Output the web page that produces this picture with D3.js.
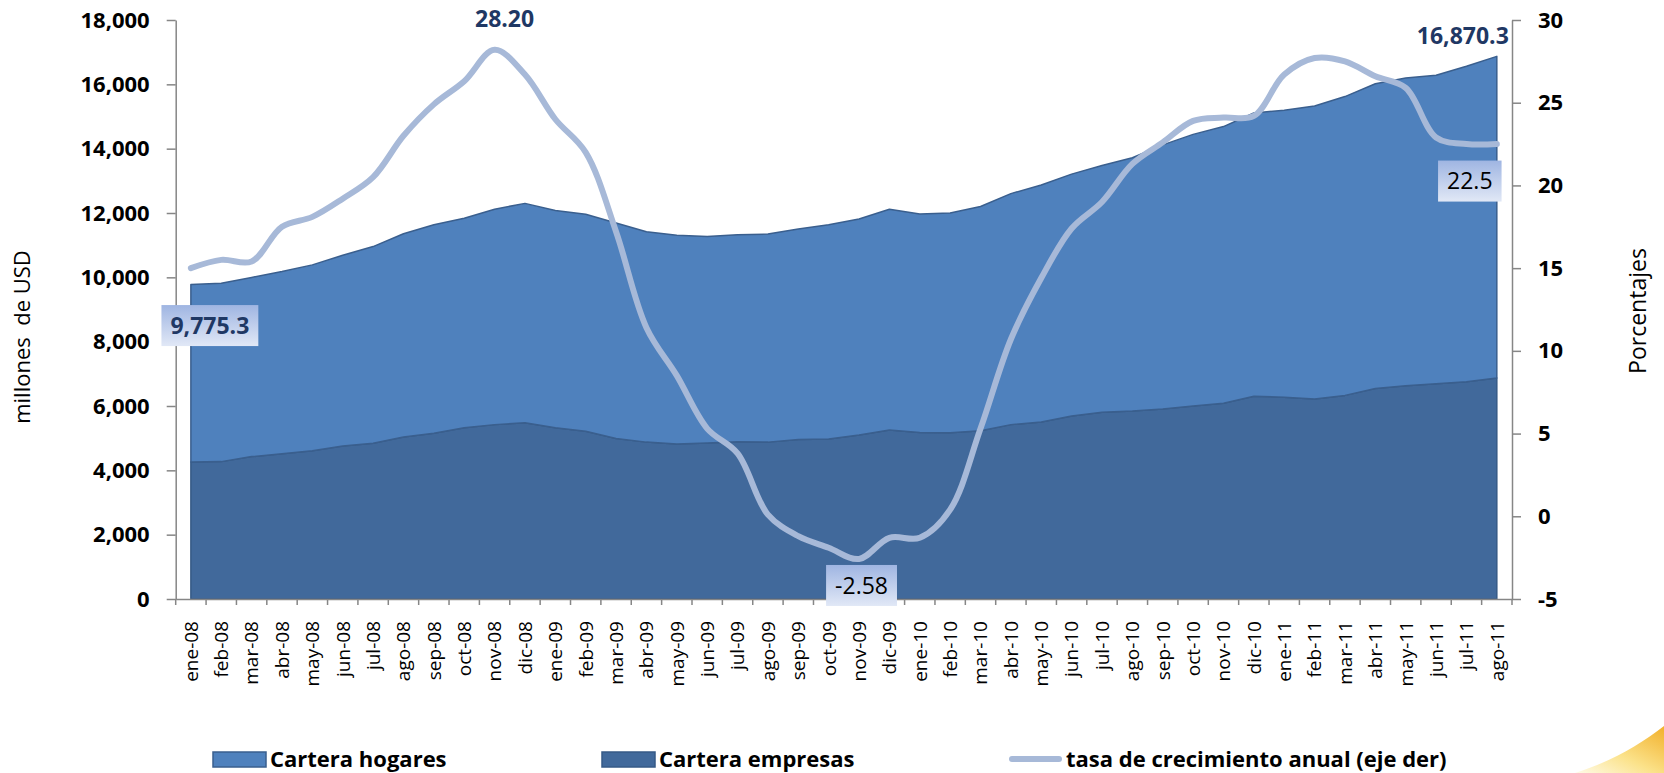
<!DOCTYPE html>
<html>
<head>
<meta charset="utf-8">
<script src="https://cdn.jsdelivr.net/npm/d3@7"></script>
<style>
  html, body { margin: 0; padding: 0; background: #ffffff; }
  svg { display: block; font-family: "Open Sans", "Noto Sans", sans-serif; }
</style>
</head>
<body>
<svg id="chart" width="1664" height="773"></svg>
<script>
// ---------------- DATA ----------------
const categories = [
  "ene-08","feb-08","mar-08","abr-08","may-08","jun-08","jul-08","ago-08","sep-08","oct-08","nov-08","dic-08",
  "ene-09","feb-09","mar-09","abr-09","may-09","jun-09","jul-09","ago-09","sep-09","oct-09","nov-09","dic-09",
  "ene-10","feb-10","mar-10","abr-10","may-10","jun-10","jul-10","ago-10","sep-10","oct-10","nov-10","dic-10",
  "ene-11","feb-11","mar-11","abr-11","may-11","jun-11","jul-11","ago-11"
];
// Cartera empresas (millones de USD)
const empresas = [
  4262.1, 4271, 4427, 4514, 4610, 4756, 4840, 5033, 5154, 5325, 5421, 5480,
  5325, 5216, 4990, 4877, 4815, 4852, 4887, 4877, 4961, 4974, 5095, 5251,
  5179, 5167, 5229, 5421, 5506, 5689, 5807, 5845, 5907, 6003, 6087, 6305,
  6270, 6221, 6330, 6547, 6631, 6693, 6752, 6873.0
];
// Cartera hogares (millones de USD)
const hogares = [
  5513.2, 5546, 5571, 5667, 5777, 5933, 6116, 6323, 6479, 6514, 6697, 6819,
  6756, 6744, 6700, 6539, 6492, 6418, 6433, 6467, 6539, 6659, 6721, 6867,
  6793, 6830, 6973, 7182, 7364, 7520, 7667, 7871, 8210, 8441, 8599, 8804,
  8926, 9106, 9289, 9470, 9569, 9591, 9812, 9997.3
];
// tasa de crecimiento anual (%), eje derecho
const tasa = [
  15.0, 15.5, 15.4, 17.5, 18.1, 19.2, 20.5, 23.0, 24.9, 26.3, 28.20, 26.7,
  24.0, 22.0, 17.2, 11.4, 8.5, 5.3, 3.8, 0.1, -1.2, -1.9, -2.58, -1.3,
  -1.3, 0.4, 5.3, 10.7, 14.4, 17.4, 19.0, 21.3, 22.6, 23.9, 24.1, 24.2,
  26.7, 27.7, 27.5, 26.6, 25.9, 22.9, 22.5, 22.5
];
const leftTicks = [0, 2000, 4000, 6000, 8000, 10000, 12000, 14000, 16000, 18000];
const rightTicks = [-5, 0, 5, 10, 15, 20, 25, 30];
const seriesNames = ["Cartera hogares", "Cartera empresas", "tasa de crecimiento anual (eje der)"];
const yTitle = "millones  de USD";
const y2Title = "Porcentajes";

// ---------------- SETUP ----------------
const svg = d3.select("#chart");
const X0 = 175.7, X1 = 1512, Y0 = 599, Y1 = 20;
const loc = d3.formatLocale({ decimal: ".", thousands: ",", grouping: [3], currency: ["$", ""], minus: "-" });

const x = d3.scaleBand().domain(categories).range([X0, X1]).paddingInner(0).paddingOuter(0);
const cx = c => x(c) + x.bandwidth() / 2;
const y = d3.scaleLinear().domain([0, 18000]).range([Y0, Y1]);
const y2 = d3.scaleLinear().domain([-5, 30]).range([Y0, Y1]);

const table = categories.map((c, i) => ({ cat: c, empresas: empresas[i], hogares: hogares[i], tasa: tasa[i] }));
const stacked = d3.stack().keys(["empresas", "hogares"])(table);

const colors = { hogares: "#4f81bd", empresas: "#41699b", line: "#a7b9d8" };
const strokes = { hogares: "#3a5f8e", empresas: "#365a86" };

const defs = svg.append("defs");
const lg = defs.append("linearGradient").attr("id", "lblGrad").attr("x1", 0).attr("y1", 0).attr("x2", 0).attr("y2", 1);
lg.append("stop").attr("offset", "0%").attr("stop-color", "#9fb5e2");
lg.append("stop").attr("offset", "100%").attr("stop-color", "#e1e8f6");
const cg = defs.append("linearGradient").attr("id", "cornerGrad").attr("x1", 0).attr("y1", 1).attr("x2", 1).attr("y2", 0);
cg.append("stop").attr("offset", "0%").attr("stop-color", "#fffbe8");
cg.append("stop").attr("offset", "45%").attr("stop-color", "#fbe28a");
cg.append("stop").attr("offset", "100%").attr("stop-color", "#f2b02a");

// ---------------- AREAS ----------------
const area = d3.area()
  .x(d => cx(d.data.cat))
  .y0(d => y(d[0]))
  .y1(d => y(d[1]))
  .curve(d3.curveLinear);

svg.append("g").selectAll("path")
  .data(stacked)
  .join("path")
  .attr("d", area)
  .attr("fill", d => colors[d.key])
  .attr("stroke", d => strokes[d.key])
  .attr("stroke-width", 1.5)
  .attr("stroke-linejoin", "round");

// ---------------- AXES ----------------
const axisColor = "#868686";

// left axis
const gL = svg.append("g").attr("transform", `translate(${X0},0)`)
  .call(d3.axisLeft(y).tickValues(leftTicks).tickSize(9).tickSizeOuter(0).tickPadding(17).tickFormat(loc.format(",")));
gL.select(".domain").attr("stroke", axisColor).attr("stroke-width", 1.5);
gL.selectAll(".tick line").attr("stroke", axisColor).attr("stroke-width", 1.5);
gL.selectAll(".tick text").attr("font-size", 22).attr("font-weight", "bold").attr("fill", "#000")
  .attr("font-family", "'Open Sans', sans-serif");

// right axis
const gR = svg.append("g").attr("transform", `translate(${X1},0)`)
  .call(d3.axisRight(y2).tickValues(rightTicks).tickSize(9).tickSizeOuter(0).tickPadding(17).tickFormat(loc.format("d")));
gR.select(".domain").attr("stroke", axisColor).attr("stroke-width", 1.5);
gR.selectAll(".tick line").attr("stroke", axisColor).attr("stroke-width", 1.5);
gR.selectAll(".tick text").attr("font-size", 22).attr("font-weight", "bold").attr("fill", "#000")
  .attr("font-family", "'Open Sans', sans-serif");

// bottom axis (labels at band centres, rotated)
const gB = svg.append("g").attr("transform", `translate(0,${Y0})`)
  .call(d3.axisBottom(x).tickSize(0).tickSizeOuter(0).tickPadding(0));
gB.select(".domain").attr("stroke", axisColor).attr("stroke-width", 1.5);
gB.selectAll(".tick text")
  .attr("font-size", 19).attr("fill", "#000").attr("font-family", "'Open Sans', sans-serif")
  .attr("transform", "rotate(-90)")
  .attr("text-anchor", "end")
  .attr("x", -22).attr("y", 0).attr("dy", "0.36em");
// category boundary tick marks
const boundaries = categories.map(c => x(c)).concat([x(categories[categories.length - 1]) + x.bandwidth()]);
gB.append("g").selectAll("line").data(boundaries).join("line")
  .attr("x1", d => d).attr("x2", d => d).attr("y1", 0).attr("y2", 6)
  .attr("stroke", axisColor).attr("stroke-width", 1.5);

// ---------------- LINE ----------------
const line = d3.line()
  .x(d => cx(d.cat))
  .y(d => y2(d.tasa))
  .curve(d3.curveCatmullRom.alpha(0.5));
svg.append("path")
  .datum(table)
  .attr("d", line)
  .attr("fill", "none")
  .attr("stroke", colors.line)
  .attr("stroke-width", 6)
  .attr("stroke-linecap", "round")
  .attr("stroke-linejoin", "round");

// ---------------- AXIS TITLES ----------------
svg.append("text")
  .attr("transform", `translate(30,337) rotate(-90)`)
  .attr("text-anchor", "middle")
  .attr("font-size", 22)
  .style("white-space", "pre")
  .attr("fill", "#000")
  .text(yTitle);
svg.append("text")
  .attr("transform", `translate(1646,311) rotate(-90)`)
  .attr("text-anchor", "middle")
  .attr("font-size", 23)
  .attr("fill", "#000")
  .text(y2Title);

// ---------------- DATA LABELS ----------------
const navy = "#1f3864";
const first = table[0], last = table[table.length - 1];
const maxT = table[d3.maxIndex(table, d => d.tasa)];
const minT = table[d3.minIndex(table, d => d.tasa)];
const fmt1 = loc.format(",.1f");
const fmt2 = loc.format(".2f");

function boxLabel(cxp, cyp, txt, opts) {
  const g = svg.append("g");
  const rect = g.append("rect").attr("fill", "url(#lblGrad)");
  const t = g.append("text")
    .attr("x", cxp).attr("y", cyp).attr("dy", "0.35em")
    .attr("text-anchor", "middle")
    .attr("font-size", 23)
    .attr("font-weight", opts.bold ? "bold" : "normal")
    .attr("fill", opts.color)
    .text(txt);
  const bb = t.node().getBBox();
  const w = bb.width + opts.padX * 2;
  rect.attr("x", cxp - w / 2).attr("y", cyp - 20.5).attr("width", w).attr("height", 41);
}

// first total
boxLabel(cx(first.cat) + 19, y(first.empresas + first.hogares) + 41, fmt1(first.empresas + first.hogares),
  { bold: true, color: navy, padX: 9 });
// last total
svg.append("text")
  .attr("x", cx(last.cat) + 12).attr("y", y(last.empresas + last.hogares) - 12)
  .attr("text-anchor", "end").attr("font-size", 23).attr("font-weight", "bold").attr("fill", navy)
  .text(fmt1(last.empresas + last.hogares));
// max growth
svg.append("text")
  .attr("x", cx(maxT.cat) + 10).attr("y", y2(maxT.tasa) - 23)
  .attr("text-anchor", "middle").attr("font-size", 23).attr("font-weight", "bold").attr("fill", navy)
  .text(fmt2(maxT.tasa));
// min growth
boxLabel(cx(minT.cat) + 2.5, y2(minT.tasa) + 26.5, fmt2(minT.tasa),
  { bold: false, color: "#000", padX: 9 });
// last growth
boxLabel(cx(last.cat) - 27, y2(last.tasa) + 37, loc.format(".1f")(last.tasa),
  { bold: false, color: "#000", padX: 9 });

// ---------------- LEGEND ----------------
const legend = svg.append("g");
const legItems = [
  { name: seriesNames[0], type: "rect", fill: colors.hogares, stroke: strokes.hogares, x: 213 },
  { name: seriesNames[1], type: "rect", fill: colors.empresas, stroke: strokes.empresas, x: 602 },
  { name: seriesNames[2], type: "line", fill: colors.line, x: 1009 }
];
legItems.forEach(it => {
  if (it.type === "rect") {
    legend.append("rect").attr("x", it.x).attr("y", 752).attr("width", 53).attr("height", 15)
      .attr("fill", it.fill).attr("stroke", it.stroke).attr("stroke-width", 1.5);
  } else {
    legend.append("line").attr("x1", it.x + 3).attr("x2", it.x + 50).attr("y1", 759).attr("y2", 759)
      .attr("stroke", it.fill).attr("stroke-width", 6).attr("stroke-linecap", "round");
  }
  legend.append("text").attr("x", it.x + 57).attr("y", 767)
    .attr("font-size", 22).attr("font-weight", "bold").attr("fill", "#000")
    .text(it.name);
});

// decorative corner swoosh
svg.append("path")
  .attr("d", "M1575,773 C1610,762 1640,745 1664,726 L1664,773 Z")
  .attr("fill", "url(#cornerGrad)");
</script>
</body>
</html>
